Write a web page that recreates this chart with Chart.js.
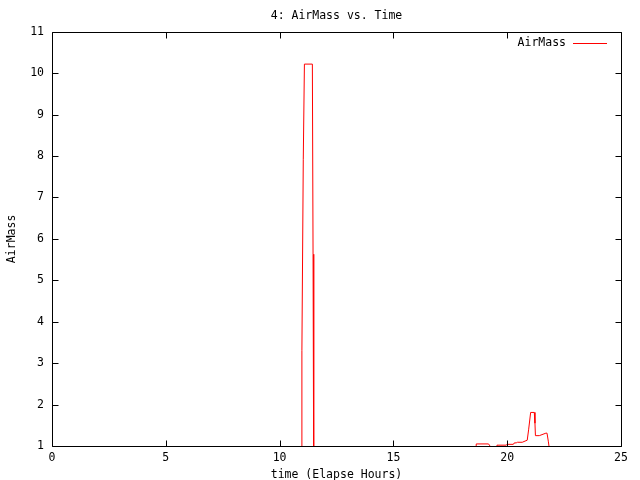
<!DOCTYPE html>
<html>
<head>
<meta charset="utf-8">
<script src="https://cdn.jsdelivr.net/npm/chart.js@4/dist/chart.umd.min.js"></script>
<style>
  html, body { margin: 0; padding: 0; background: #fff; }
  canvas { display: block; }
</style>
</head>
<body>
<canvas id="c" width="640" height="480"></canvas>
<script>
// ---- data ----
const chartTitle = "4: AirMass vs. Time";
const seriesName = "AirMass";
const xAxisTitle = "time (Elapse Hours)";
const yAxisTitle = "AirMass";

const hours = [10.97, 10.98, 11.04, 11.09, 11.44, 11.47, 11.50,
  18.60, 18.64, 19.18, 19.27, 19.52, 19.55, 19.95, 20.00, 20.27, 20.30,
  20.42, 20.45, 20.66, 20.88, 20.94, 21.03, 21.19, 21.22, 21.24, 21.41,
  21.70, 21.75, 21.81, 21.86];
const airMass = [0, 3.30, 7.91, 10.22, 10.22, 5.63, 0,
  0, 1.05, 1.05, 0.98, 0.98, 1.02, 1.02, 1.04, 1.04, 1.07,
  1.08, 1.09, 1.09, 1.14, 1.39, 1.81, 1.81, 1.55, 1.25, 1.25,
  1.31, 1.31, 1.10, 0.90];

const xMin = 0, xMax = 25, xStep = 5;
const yMin = 1, yMax = 11, yStep = 1;

const FONT = "'DejaVu Sans Mono', 'Liberation Mono', monospace";
Chart.defaults.color = '#000';
Chart.defaults.font.family = FONT;
Chart.defaults.font.size = 11.5;

const points = hours.map((h, i) => ({ x: h, y: airMass[i] }));

// frame with inward ticks on all four sides, plus gnuplot-style key
const framePlugin = {
  id: 'frame',
  afterDatasetsDraw(chart) {
    const { ctx, chartArea: a, scales } = chart;
    const L = Math.round(a.left) + 0.5, R = Math.round(a.right) + 0.5;
    const T = Math.round(a.top) + 0.5, B = Math.round(a.bottom) + 0.5;
    const tl = 6;
    ctx.save();
    ctx.strokeStyle = '#000';
    ctx.lineWidth = 1;
    ctx.beginPath();
    ctx.rect(L, T, R - L, B - T);
    scales.x.ticks.forEach(t => {
      const px = Math.round(scales.x.getPixelForValue(t.value)) + 0.5;
      ctx.moveTo(px, B); ctx.lineTo(px, B - tl);
      ctx.moveTo(px, T); ctx.lineTo(px, T + tl);
    });
    scales.y.ticks.forEach(t => {
      const py = Math.round(scales.y.getPixelForValue(t.value)) + 0.5;
      ctx.moveTo(L, py); ctx.lineTo(L + tl, py);
      ctx.moveTo(R, py); ctx.lineTo(R - tl, py);
    });
    ctx.stroke();
    ctx.restore();
  },
  afterDraw(chart) {
    const { ctx, chartArea: a } = chart;
    const ds = chart.data.datasets[0];
    const ky = Math.round(a.top) + 11.5;
    const lineEnd = Math.round(a.right) - 14;
    const lineStart = lineEnd - 34;
    ctx.save();
    ctx.font = "11.5px " + FONT;
    ctx.fillStyle = '#000';
    ctx.textAlign = 'right';
    ctx.textBaseline = 'middle';
    ctx.fillText(ds.label, lineStart - 7, ky);
    ctx.strokeStyle = ds.borderColor;
    ctx.lineWidth = 1;
    ctx.beginPath();
    ctx.moveTo(lineStart, ky);
    ctx.lineTo(lineEnd, ky);
    ctx.stroke();
    ctx.restore();
  }
};

new Chart(document.getElementById('c'), {
  type: 'scatter',
  data: {
    datasets: [{
      label: seriesName,
      data: points,
      showLine: true,
      borderColor: '#ff0000',
      backgroundColor: '#ff0000',
      borderWidth: 1,
      pointRadius: 0,
      tension: 0
    }]
  },
  options: {
    responsive: false,
    animation: false,
    devicePixelRatio: 1,
    layout: { padding: { left: 0, right: 19, top: 0, bottom: 0 } },
    plugins: {
      legend: { display: false },
      tooltip: { enabled: false },
      title: {
        display: true,
        text: chartTitle,
        fullSize: false,
        color: '#000',
        font: { family: FONT, size: 11.5, weight: 'normal' },
        padding: { top: 9, bottom: 9 }
      }
    },
    scales: {
      x: {
        type: 'linear',
        min: xMin, max: xMax,
        grid: { display: false, drawTicks: false },
        border: { display: false },
        ticks: { stepSize: xStep, padding: 5, maxRotation: 0, color: '#000' },
        title: { display: true, text: xAxisTitle, color: '#000', padding: { top: 0, bottom: -2 },
                 font: { family: FONT, size: 11.5 } },
        afterFit(s) { s.height = 34; }
      },
      y: {
        type: 'linear',
        min: yMin, max: yMax,
        grid: { display: false, drawTicks: false },
        border: { display: false },
        ticks: { stepSize: yStep, padding: 8, color: '#000' },
        title: { display: true, text: yAxisTitle, color: '#000', padding: { top: 5, bottom: 0 },
                 font: { family: FONT, size: 11.5 } },
        afterFit(s) { s.width = 52; }
      }
    }
  },
  plugins: [framePlugin]
});
</script>
</body>
</html>
